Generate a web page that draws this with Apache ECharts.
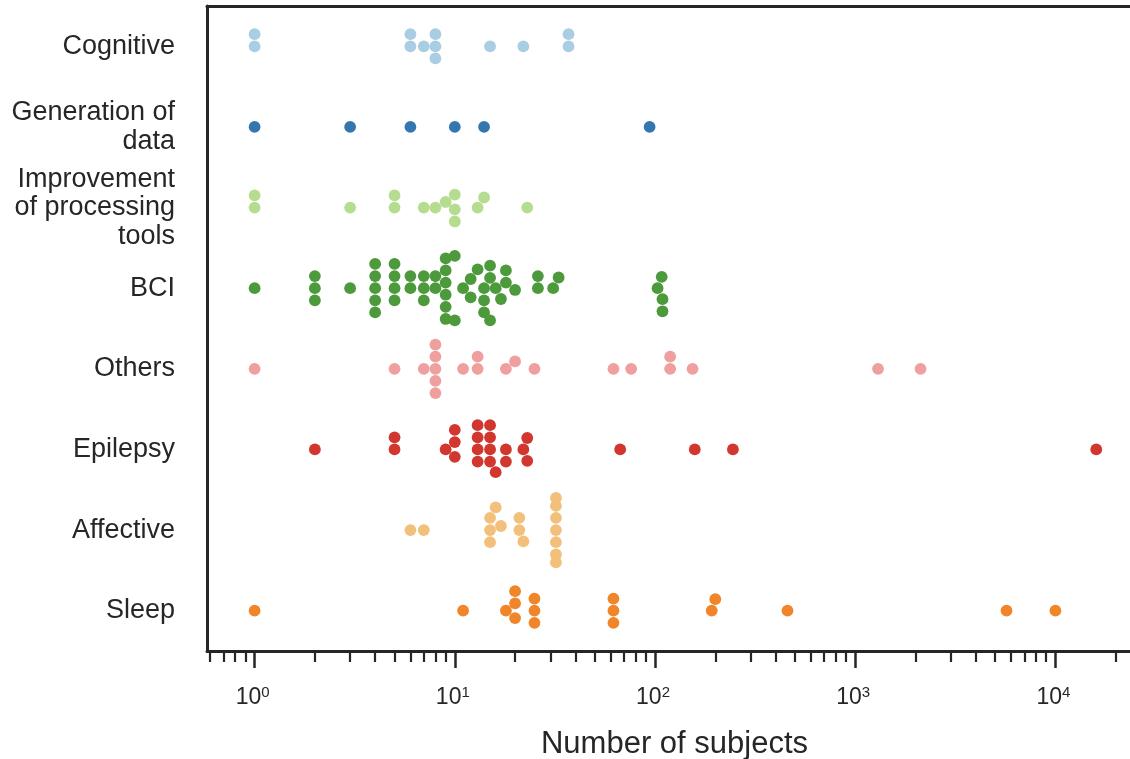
<!DOCTYPE html>
<html>
<head>
<meta charset="utf-8">
<script src="https://cdn.jsdelivr.net/npm/echarts@6/dist/echarts.min.js"></script>
<style>
html,body{margin:0;padding:0;background:#ffffff;}
#chart{width:1130px;height:759px;}
</style>
</head>
<body>
<div id="chart"></div>
<script>
// ---------------- data ----------------
const categories = ['Cognitive', 'Generation of\ndata', 'Improvement\nof processing\ntools', 'BCI', 'Others', 'Epilepsy', 'Affective', 'Sleep'];

const cognitive = [1, 1, 6, 6, 7, 8, 8, 8, 15, 22, 37, 37];
const generationOfData = [1, 3, 6, 10, 14, 94];
const improvementOfTools = [1, 1, 3, 5, 5, 7, 8, 9, 10, 10, 10, 13, 14, 23];
const bci = [1, 2, 2, 2, 3, 4, 4, 4, 4, 4, 5, 5, 5, 5, 6, 6, 7, 7, 7, 8, 8,
             9, 9, 9, 9, 9, 9, 10, 10, 11, 12, 12, 13, 14, 14, 14, 15, 15, 15,
             16, 17, 18, 18, 20, 26, 26, 31, 33, 103, 108, 109, 109];
const others = [1, 5, 7, 8, 8, 8, 8, 8, 11, 13, 13, 18, 20, 25, 62, 76, 119, 119, 154, 1300, 2120];
const epilepsy = [2, 5, 5, 9, 10, 10, 10, 13, 13, 13, 13, 15, 15, 15, 15, 16, 18, 18, 22, 23, 23, 67, 158, 245, 16000];
const affective = [6, 7, 15, 15, 15, 16, 17, 21, 21, 22, 32, 32, 32, 32, 32, 32, 32];
const sleep = [1, 11, 18, 20, 20, 20, 25, 25, 25, 62, 62, 62, 192, 200, 459, 5700, 10000];

const majorTickExponents = [0, 1, 2, 3, 4];
const minorTickMultipliers = [2, 3, 4, 5, 6, 7, 8, 9];

// ---------------- style ----------------
const groups = [cognitive, generationOfData, improvementOfTools, bci, others, epilepsy, affective, sleep];
const colors = ['#a9cde2', '#3476af', '#b6dc90', '#4c9a3c', '#ee9f9e', '#d2372f', '#f2c07a', '#f0852a'];
const ink = '#262626';
const font = 'Liberation Sans';
const xMinExp = -0.2378, xMaxExp = 4.3726;
const markerDiameter = 11.55;   // swarm collision diameter in px
const markerSize = 11.8;

const minorTickExponents = [];
for (let e = -1; e <= 4; e++) {
  minorTickMultipliers.forEach(m => {
    const v = Math.log10(m) + e;
    if (v > xMinExp && v < xMaxExp) minorTickExponents.push(v);
  });
}

const chart = echarts.init(document.getElementById('chart'), null, {renderer: 'canvas'});

const spine = {show: true, onZero: false, lineStyle: {color: ink, width: 3}};

chart.setOption({
  animation: false,
  backgroundColor: '#ffffff',
  grid: {left: 207, right: 0, top: 6, bottom: 108, containLabel: false, outerBoundsMode: 'none'},
  xAxis: [
    {type: 'log', logBase: 10, min: Math.pow(10, xMinExp), max: Math.pow(10, xMaxExp), show: false,
     axisLine: {onZero: false}},
    {type: 'value', min: xMinExp, max: xMaxExp, position: 'bottom',
     axisLine: spine,
     axisTick: {show: true, customValues: majorTickExponents, length: 17, lineStyle: {color: ink, width: 2.5}},
     axisLabel: {show: true, customValues: majorTickExponents, margin: 34, padding: [0, 4, 0, 0],
       formatter: v => '{b|10}{s|' + v + '}',
       rich: {
         b: {fontSize: 23, fontFamily: font, color: ink, lineHeight: 26},
         s: {fontSize: 15, fontFamily: font, color: ink, lineHeight: 15, verticalAlign: 'top'}
       }},
     splitLine: {show: false},
     name: 'Number of subjects', nameLocation: 'middle', nameGap: 78,
     nameTextStyle: {fontSize: 31, fontFamily: font, color: ink, padding: [0, 0, 0, 12]}},
    {type: 'value', min: xMinExp, max: xMaxExp, position: 'bottom',
     axisLine: {show: false, onZero: false},
     axisTick: {show: true, customValues: minorTickExponents, length: 11, lineStyle: {color: ink, width: 2.2}},
     axisLabel: {show: false}, splitLine: {show: false}},
    {type: 'value', min: xMinExp, max: xMaxExp, position: 'top',
     axisLine: spine, axisTick: {show: false}, axisLabel: {show: false}, splitLine: {show: false}}
  ],
  yAxis: [
    {type: 'category', data: categories, inverse: true,
     axisLine: spine, axisTick: {show: false},
     axisLabel: {fontSize: 27, lineHeight: 28.5, fontFamily: font, color: ink, margin: 32, align: 'right',
                 padding: [4, 0, 0, 0]},
     splitLine: {show: false}},
    {type: 'value', min: -0.5, max: 7.5, inverse: true, show: false, axisLine: {onZero: false}}
  ],
  series: groups.map((g, i) => ({
    type: 'scatter', name: categories[i], xAxisIndex: 0, yAxisIndex: 1,
    symbol: 'circle', symbolSize: markerSize, silent: true,
    itemStyle: {color: colors[i], opacity: 1}, data: []
  }))
});

// --------- beeswarm layout (seaborn-style) computed in pixel space ---------
const rowPx = Math.abs(chart.convertToPixel({yAxisIndex: 1}, 1) - chart.convertToPixel({yAxisIndex: 1}, 0));
const gutter = 0.4 * rowPx;

function swarm(values, d) {
  const pts = values.map(v => ({v: v, x: chart.convertToPixel({xAxisIndex: 0}, v), o: 0}));
  pts.sort((a, b) => a.x - b.x);
  const placed = [];
  pts.forEach((p, k) => {
    if (k === 0) { p.o = 0; placed.push(p); return; }
    const nb = [];
    for (let j = placed.length - 1; j >= 0; j--) {
      if (p.x - placed[j].x < d) nb.push(placed[j]); else break;
    }
    nb.reverse();
    const cands = [0];
    let leftFirst = true;
    nb.forEach(n => {
      const dy = p.x - n.x;
      const dx = Math.sqrt(Math.max(d * d - dy * dy, 0)) * 1.05;
      const cl = n.o - dx, cr = n.o + dx;
      if (leftFirst) cands.push(cl, cr); else cands.push(cr, cl);
      leftFirst = !leftFirst;
    });
    const order = cands.map((c, i) => i).sort((a, b) => (Math.abs(cands[a]) - Math.abs(cands[b])) || (a - b));
    let chosen = cands[order[order.length - 1]];
    for (const i of order) {
      const c = cands[i];
      const ok = nb.every(n => (n.x - p.x) * (n.x - p.x) + (n.o - c) * (n.o - c) >= d * d);
      if (ok) { chosen = c; break; }
    }
    p.o = chosen;
    placed.push(p);
  });
  pts.forEach(p => { p.o = Math.max(-gutter, Math.min(gutter, p.o)); });
  return pts;
}

chart.setOption({
  series: groups.map((g, i) => ({
    data: swarm(g, markerDiameter).map(p => [p.v, i + p.o / rowPx])
  }))
});
</script>
</body>
</html>
